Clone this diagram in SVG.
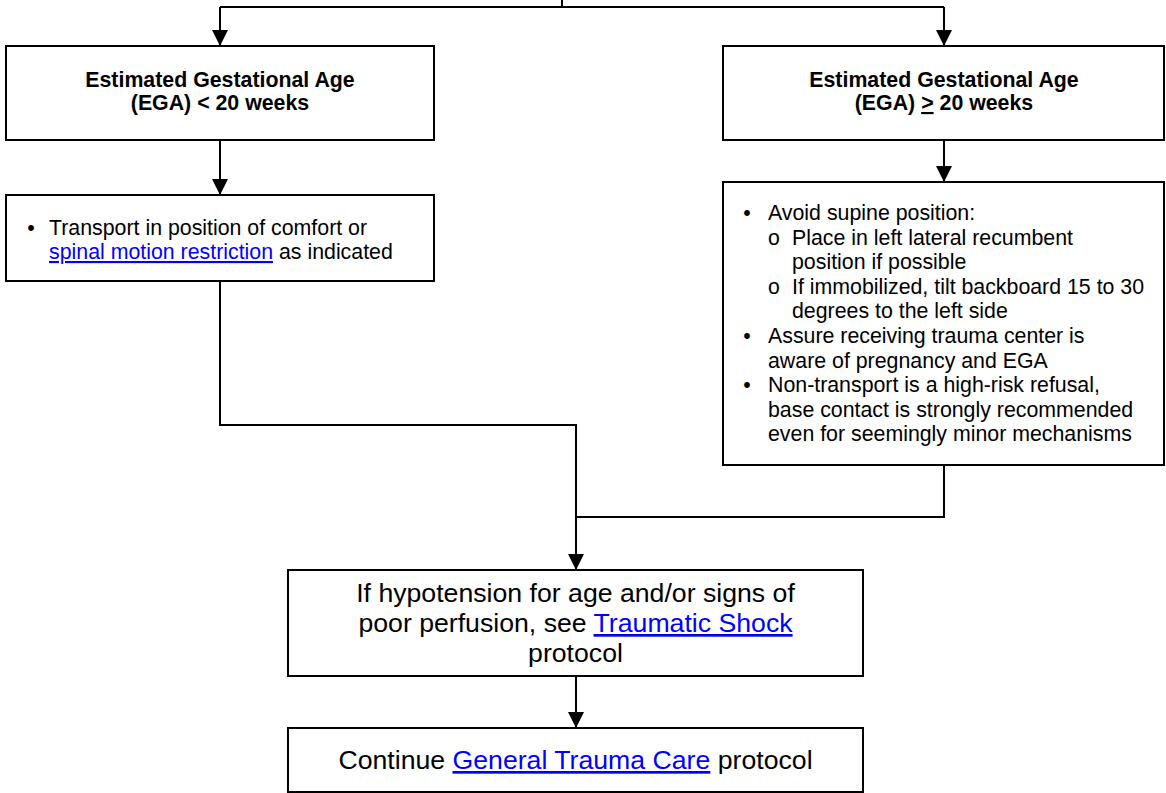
<svg xmlns="http://www.w3.org/2000/svg" width="1166" height="793" viewBox="0 0 1166 793">
<style>
.box{fill:#fff;stroke:#000;stroke-width:2}
.con{fill:none;stroke:#000;stroke-width:2}
.h{font-family:"Liberation Sans",Arial,sans-serif;font-size:21.33px;font-weight:bold;fill:#000;text-anchor:middle}
.t{font-family:"Liberation Sans",Arial,sans-serif;font-size:21.33px;fill:#000}
.big{font-family:"Liberation Sans",Arial,sans-serif;font-size:26.67px;fill:#000;text-anchor:middle}
.lk{fill:#0000ff;text-decoration:underline}
.o{font-family:"Liberation Mono","Courier New",monospace;font-size:21.33px;fill:#000;text-anchor:middle}
</style>
<defs>
<marker id="ah" markerUnits="userSpaceOnUse" markerWidth="16" markerHeight="16" refX="16" refY="8" orient="auto" viewBox="0 0 16 16">
<path d="M0,0 L16,8 L0,16 Z" fill="#000"/>
</marker>
</defs>
<g id="connectors">
<path class="con" d="M562,0 V7"/>
<path class="con" d="M220,7 H944"/>
<path class="con" d="M220,7 V46" marker-end="url(#ah)"/>
<path class="con" d="M944,7 V46" marker-end="url(#ah)"/>
<path class="con" d="M220,140 V195" marker-end="url(#ah)"/>
<path class="con" d="M944,140 V182" marker-end="url(#ah)"/>
<path class="con" d="M220,281 V425 H576 V570" marker-end="url(#ah)"/>
<path class="con" d="M944,465 V517 H576"/>
<path class="con" d="M576,676 V728" marker-end="url(#ah)"/>
</g>
<g id="ega-lt20">
<rect class="box" x="6" y="46" width="428" height="94"/>
<text class="h" x="220" y="87">Estimated Gestational Age</text>
<text class="h" x="220" y="110">(EGA) &lt; 20 weeks</text>
</g>
<g id="ega-ge20">
<rect class="box" x="723" y="46" width="441" height="94"/>
<text class="h" x="944" y="87">Estimated Gestational Age</text>
<text class="h" x="944" y="110">(EGA) <tspan text-decoration="underline">&gt;</tspan> 20 weeks</text>
</g>
<g id="transport-comfort">
<rect class="box" x="6" y="195" width="428" height="86"/>
<text class="t" x="31" y="235" text-anchor="middle">•</text>
<text class="t" x="49" y="235">Transport in position of comfort or</text>
<text class="t" x="49" y="259"><tspan class="lk">spinal motion restriction</tspan> as indicated</text>
</g>
<g id="avoid-supine">
<rect class="box" x="723" y="182" width="441" height="283"/>
<text class="t" x="747" y="220" text-anchor="middle">•</text>
<text class="t" x="768" y="220">Avoid supine position:</text>
<text class="o" x="774" y="244.6">o</text>
<text class="t" x="792" y="244.6">Place in left lateral recumbent</text>
<text class="t" x="792" y="269.2">position if possible</text>
<text class="o" x="774" y="293.8">o</text>
<text class="t" x="792" y="293.8">If immobilized, tilt backboard 15 to 30</text>
<text class="t" x="792" y="318.4">degrees to the left side</text>
<text class="t" x="747" y="343" text-anchor="middle">•</text>
<text class="t" x="768" y="343">Assure receiving trauma center is</text>
<text class="t" x="768" y="367.6">aware of pregnancy and EGA</text>
<text class="t" x="747" y="392.2" text-anchor="middle">•</text>
<text class="t" x="768" y="392.2">Non-transport is a high-risk refusal,</text>
<text class="t" x="768" y="416.8">base contact is strongly recommended</text>
<text class="t" x="768" y="441.4">even for seemingly minor mechanisms</text>
</g>
<g id="hypotension">
<rect class="box" x="288" y="570" width="575" height="106"/>
<text class="big" x="575.5" y="602">If hypotension for age and/or signs of</text>
<text class="big" x="575.5" y="632">poor perfusion, see <tspan class="lk">Traumatic Shock</tspan></text>
<text class="big" x="575.5" y="662">protocol</text>
</g>
<g id="continue">
<rect class="box" x="288" y="728" width="575" height="64"/>
<text class="big" x="575.5" y="769">Continue <tspan class="lk">General Trauma Care</tspan> protocol</text>
</g>
</svg>
